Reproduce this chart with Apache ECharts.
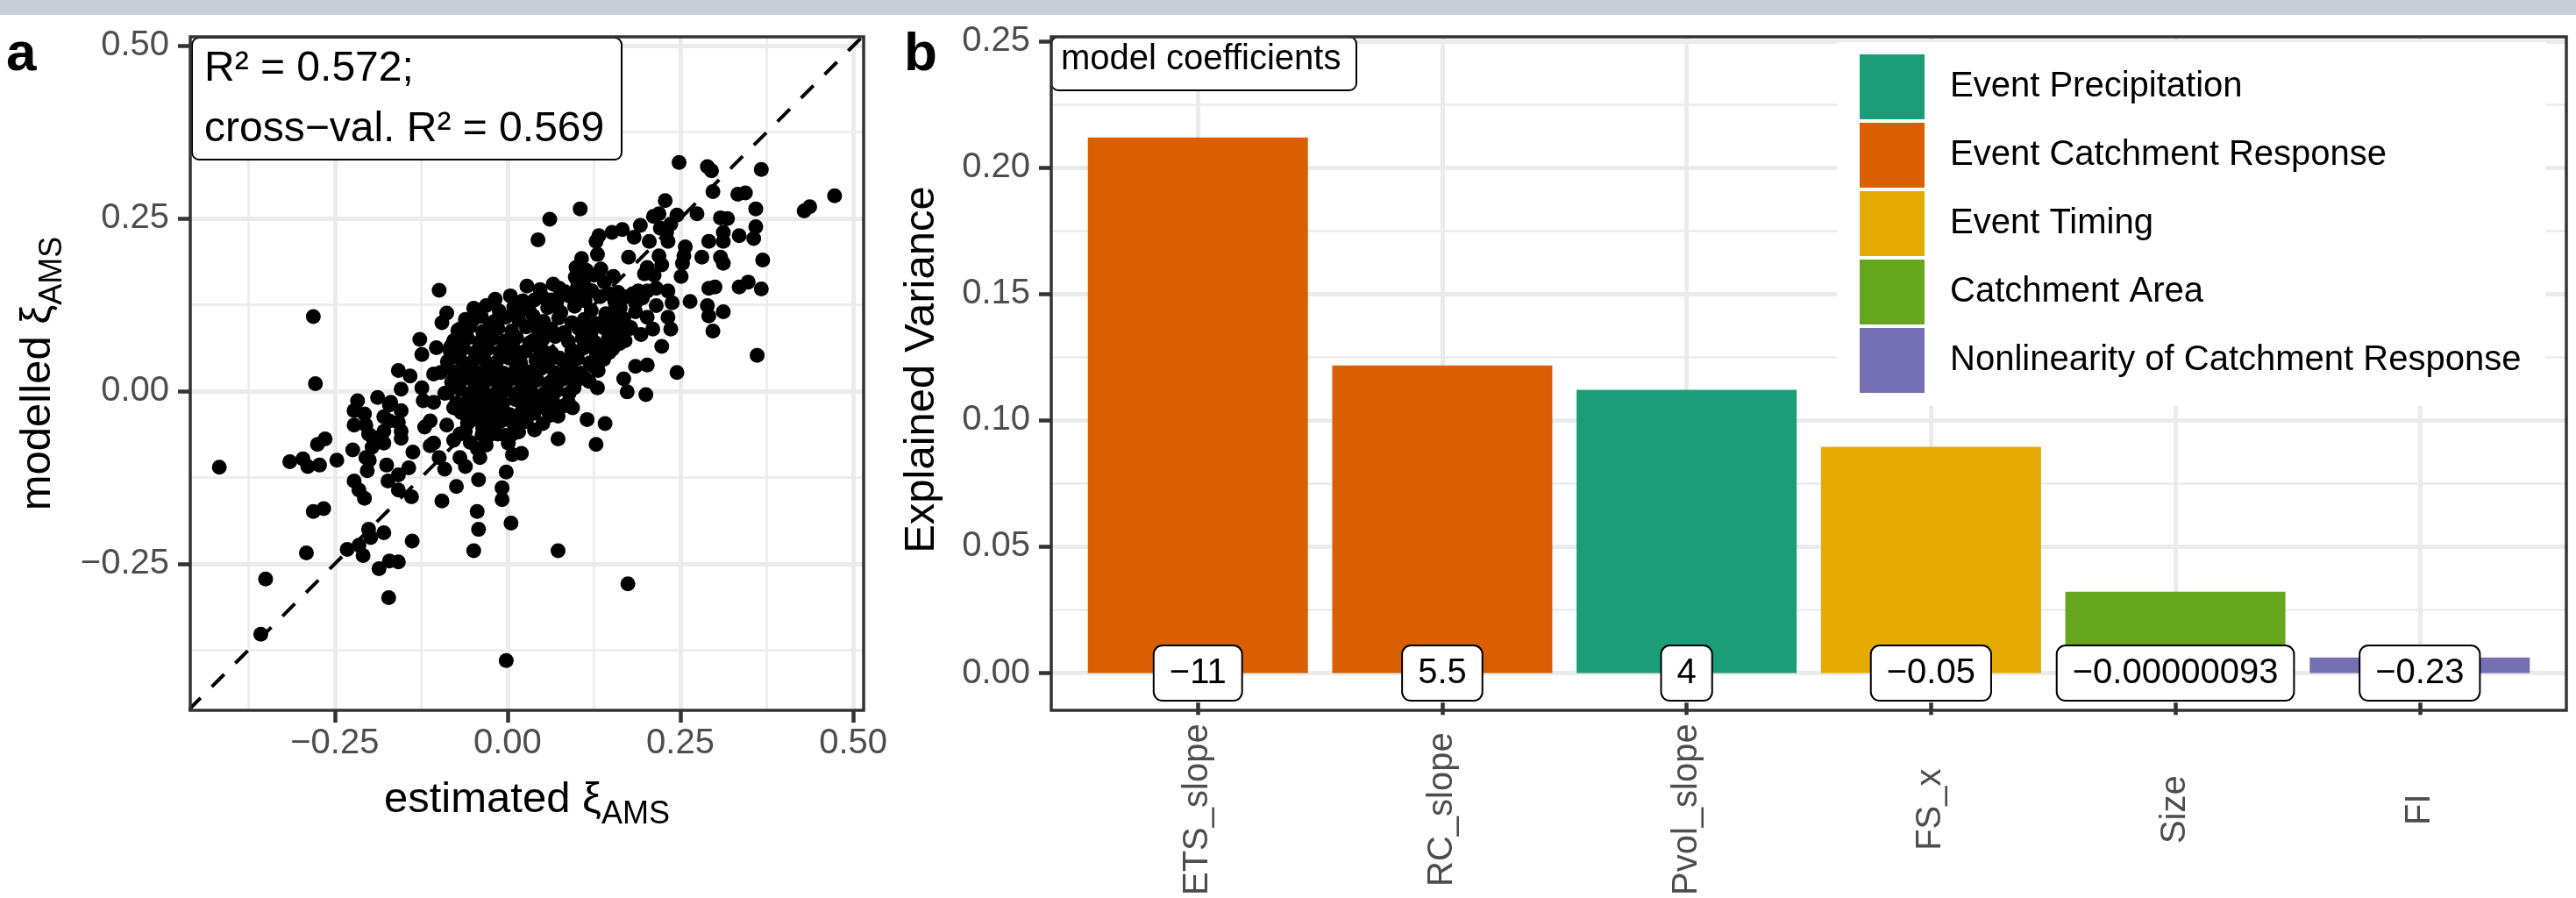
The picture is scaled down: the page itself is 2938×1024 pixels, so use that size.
<!DOCTYPE html>
<html><head><meta charset="utf-8">
<script src="https://cdn.jsdelivr.net/npm/echarts@6/dist/echarts.min.js"></script>
<style>html,body{margin:0;padding:0;background:#fff}#chart{width:2938px;height:1024px}</style>
</head><body><div id="chart"></div>
<script>
const FONT = '"Liberation Sans", Arial, Helvetica, sans-serif';

// ---------------- panel a : estimated vs modelled xi_AMS ----------------
const xiPoints = [
[-0.417,-0.110],[-0.281,0.108],[-0.278,0.011],[-0.099,0.146],
[-0.088,0.113],[-0.095,0.099],[-0.049,0.120],[-0.050,0.103],[-0.069,0.090],[-0.025,0.094],[0.015,0.113],
[-0.127,0.075],[-0.124,0.053],[-0.103,0.063],[-0.082,0.065],[-0.078,0.073],[-0.057,0.039],
[-0.158,0.030],[-0.141,0.022],[-0.107,0.025],[-0.097,0.027],[-0.074,0.022],[-0.046,0.025],[-0.027,0.035],[-0.010,0.018],
[-0.154,0.003],[-0.124,0.005],
[-0.217,-0.014],[-0.222,-0.028],[-0.207,-0.033],[-0.188,-0.009],[-0.171,-0.020],[-0.154,-0.028],[-0.222,-0.049],[-0.205,-0.049],[-0.179,-0.037],[-0.158,-0.045],
[-0.122,-0.014],[-0.107,-0.016],[-0.091,-0.003],[-0.078,-0.024],[-0.061,-0.020],[-0.044,-0.007],[-0.027,-0.016],[-0.010,-0.028],
[-0.120,-0.052],[-0.112,-0.043],[-0.088,-0.049],[-0.069,-0.062],[-0.052,-0.037],[-0.036,-0.054],[-0.014,-0.062],[0.007,-0.062],
[-0.196,-0.066],[-0.179,-0.075],[-0.154,-0.068],[-0.275,-0.077],[-0.264,-0.069],[-0.224,-0.085],[-0.247,-0.100],
[-0.315,-0.102],[-0.296,-0.098],[-0.289,-0.109],[-0.272,-0.107],[-0.200,-0.100],[-0.175,-0.107],[-0.137,-0.088],[-0.143,-0.111],
[-0.112,-0.079],[-0.099,-0.096],[-0.091,-0.113],[-0.044,-0.083],[-0.040,-0.096],[-0.002,-0.117],[0.007,-0.092],
[-0.201,-0.062],[-0.188,-0.071],[-0.196,-0.081],[-0.205,-0.096],[-0.203,-0.115],[-0.179,-0.058],[-0.171,-0.043],[-0.154,-0.058],
[-0.158,-0.121],[-0.169,-0.016],[-0.107,-0.075],[-0.078,-0.071],[-0.069,-0.096],[-0.061,-0.109],[-0.027,-0.064],
[-0.222,-0.130],[-0.215,-0.143],[-0.207,-0.155],[-0.173,-0.130],[-0.158,-0.143],[-0.139,-0.153],
[-0.281,-0.174],[-0.266,-0.170],[-0.291,-0.234],[-0.350,-0.272],[-0.357,-0.352],
[-0.201,-0.200],[-0.198,-0.212],[-0.179,-0.205],[-0.232,-0.229],[-0.215,-0.223],[-0.209,-0.238],
[-0.186,-0.257],[-0.171,-0.246],[-0.158,-0.247],[-0.172,-0.299],[-0.138,-0.217],
[-0.095,-0.159],[-0.074,-0.138],[-0.042,-0.128],[-0.044,-0.174],[-0.042,-0.200],[-0.049,-0.231],
[-0.008,-0.140],[-0.008,-0.157],[0.005,-0.191],[-0.002,-0.390],[0.073,-0.231],[0.174,-0.279],
[0.248,0.331],[0.289,0.325],[0.295,0.319],[0.367,0.321],[0.297,0.289],[0.333,0.285],[0.344,0.287],[0.473,0.283],[0.429,0.261],[0.437,0.267],
[0.359,0.264],[0.228,0.276],[0.105,0.264],[0.061,0.249],[0.044,0.219],[0.274,0.257],[0.308,0.251],[0.318,0.250],[0.359,0.238],[0.312,0.230],
[0.335,0.225],[0.356,0.221],[0.291,0.217],[0.312,0.217],[0.308,0.194],[0.312,0.185],[0.281,0.194],[0.369,0.190],[0.251,0.166],[0.257,0.209],
[0.255,0.196],[0.253,0.185],[0.291,0.149],[0.300,0.151],[0.335,0.151],[0.348,0.158],[0.367,0.148],[0.264,0.130],[0.289,0.124],[0.291,0.109],
[0.312,0.115],[0.297,0.087],[0.361,0.052],[0.245,0.027],[0.200,-0.005],[0.173,-0.001],[0.168,0.018],[0.185,0.036],[0.202,0.038],[0.223,0.065],
[0.236,0.090],[0.232,0.107],[0.238,0.128],[0.215,0.124],[0.202,0.107],[0.189,0.145],[0.202,0.145],[0.215,0.149],[0.232,0.145],[0.160,0.143],
[0.173,0.137],[0.181,0.141],[0.198,0.170],[0.202,0.179],[0.212,0.168],[0.219,0.196],[0.223,0.183],[0.205,0.217],[0.232,0.217],[0.230,0.230],
[0.236,0.242],[0.245,0.255],[0.221,0.236],[0.211,0.253],[0.219,0.257],[0.192,0.240],[0.183,0.223],[0.175,0.194],[0.166,0.234],[0.151,0.230],
[0.132,0.225],[0.128,0.217],[0.130,0.198],[0.107,0.192],[0.099,0.179],[0.114,0.175],[0.135,0.177],[0.153,0.166],[0.110,0.160],[0.125,0.168],
[0.140,0.158],[0.098,0.165],[0.075,0.149],[0.039,0.132],[0.063,0.132],[0.020,0.124],[0.105,0.141],[0.122,0.145],[0.147,0.141],[0.185,0.115],
[0.193,0.082],[0.170,0.073],[0.147,0.056],[0.135,0.065],[0.126,0.035],[0.118,0.014],[0.092,0.039],[0.075,0.048],[0.054,0.056],[0.037,0.073],
[0.041,0.094],[0.020,0.056],[0.024,0.022],[0.037,0.022],[0.063,0.014],[0.067,-0.003],[0.084,0.027],[0.096,0.005],[0.033,-0.003],[0.029,-0.016],
[0.130,0.005],[0.088,-0.016],[0.094,-0.024],[0.063,-0.020],[0.061,-0.035],[0.039,-0.028],[0.039,-0.056],[0.020,-0.033],[0.115,-0.041],[0.141,-0.047],
[0.073,-0.069],[0.128,-0.077],[0.020,-0.090],
[0.155,0.118],[0.168,0.105],[0.178,0.092],[0.160,0.085],[0.185,0.128],[0.195,0.135],[0.210,0.090],[0.150,0.100],
[0.028,0.152],[0.047,0.147],[0.066,0.155],[0.083,0.144],[0.101,0.151],[0.118,0.146],
[-0.018,0.133],[0.004,0.138],[0.022,0.131],[0.051,0.136],[0.071,0.129],[0.089,0.138],[0.112,0.131],[0.134,0.137],[0.155,0.130],
[-0.046,0.118],[-0.031,0.124],[-0.012,0.116],[0.009,0.122],[0.031,0.117],[0.058,0.121],[0.077,0.114],[0.097,0.123],[0.121,0.117],[0.142,0.112],[0.163,0.121],
[-0.061,0.104],[-0.038,0.108],[-0.019,0.101],[-0.003,0.107],[0.016,0.103],[0.037,0.109],[0.052,0.101],[0.074,0.106],[0.093,0.099],[0.111,0.104],[0.129,0.098],[0.151,0.106],[0.168,0.101],
[-0.072,0.088],[-0.055,0.093],[-0.036,0.086],[-0.014,0.091],[0.006,0.087],[0.027,0.093],[0.045,0.086],[0.063,0.090],[0.082,0.085],[0.103,0.091],[0.121,0.086],[0.139,0.092],[0.158,0.087],[0.178,0.091],
[-0.076,0.073],[-0.058,0.077],[-0.041,0.071],[-0.022,0.076],[-0.005,0.072],[0.013,0.078],[0.032,0.070],[0.051,0.075],[0.069,0.079],[0.088,0.072],[0.108,0.077],[0.126,0.071],[0.146,0.078],[0.162,0.069],
[-0.083,0.058],[-0.064,0.062],[-0.047,0.056],[-0.029,0.061],[-0.011,0.057],[0.008,0.063],[0.026,0.058],[0.046,0.061],[0.064,0.055],[0.093,0.059],[0.109,0.062],[0.128,0.057],[0.152,0.061],
[-0.087,0.043],[-0.069,0.047],[-0.052,0.041],[-0.034,0.046],[-0.016,0.042],[0.002,0.048],[0.019,0.041],[0.041,0.045],[0.058,0.039],[0.081,0.044],[0.101,0.047],[0.119,0.041],[0.139,0.046],
[-0.078,0.028],[-0.061,0.033],[-0.043,0.027],[-0.024,0.031],[-0.006,0.026],[0.012,0.032],[0.031,0.028],[0.049,0.033],[0.068,0.027],[0.089,0.031],[0.107,0.026],[0.131,0.030],
[-0.081,0.013],[-0.064,0.018],[-0.048,0.012],[-0.029,0.016],[-0.013,0.011],[0.004,0.017],[0.021,0.012],[0.043,0.016],[0.059,0.011],[0.079,0.017],[0.098,0.013],[0.113,0.018],
[-0.087,-0.002],[-0.069,0.003],[-0.053,-0.003],[-0.036,0.002],[-0.019,-0.004],[-0.002,0.001],[0.015,-0.002],[0.033,0.003],[0.052,-0.004],[0.071,0.001],[0.089,-0.003],
[-0.074,-0.017],[-0.057,-0.012],[-0.041,-0.018],[-0.023,-0.013],[-0.007,-0.018],[0.011,-0.012],[0.028,-0.017],[0.047,-0.011],[0.066,-0.016],[0.082,-0.021],
[-0.067,-0.031],[-0.049,-0.027],[-0.031,-0.033],[-0.016,-0.029],[0.003,-0.034],[0.021,-0.028],[0.038,-0.032],[0.057,-0.027],[0.073,-0.036],
[-0.058,-0.046],[-0.041,-0.042],[-0.026,-0.047],[-0.009,-0.043],[0.009,-0.048],[0.027,-0.044],[0.051,-0.047],
[-0.061,-0.058],[-0.037,-0.063],[-0.019,-0.059],[-0.003,-0.064],[0.016,-0.059],
[-0.054,-0.074],[-0.031,-0.078],[0.001,-0.075]
];
const r2Lines = ['R² = 0.572;', 'cross−val. R² = 0.569'];
const aTicks = [-0.25, 0, 0.25, 0.5];
const aMinorTicks = [-0.375, -0.125, 0.125, 0.375];
const aXRange = [-0.459, 0.515];
const aYRange = [-0.462, 0.513];

// ---------------- panel b : explained variance per predictor ----------------
const categories = ['ETS_slope', 'RC_slope', 'Pvol_slope', 'FS_x', 'Size', 'FI'];
const explainedVariance = [0.2119, 0.1217, 0.1121, 0.0895, 0.0322, 0.0062];
const coefficientLabels = ['−11', '5.5', '4', '−0.05', '−0.00000093', '−0.23'];
const categoryGroup = ['Event Catchment Response', 'Event Catchment Response', 'Event Precipitation',
  'Event Timing', 'Catchment Area', 'Nonlinearity of Catchment Response'];
const groups = ['Event Precipitation', 'Event Catchment Response', 'Event Timing',
  'Catchment Area', 'Nonlinearity of Catchment Response'];
const groupColors = ['#1B9E77', '#D95F02', '#E6AB02', '#66A61E', '#7570B3'];
const bTicks = [0, 0.05, 0.10, 0.15, 0.20, 0.25];
const bMinorTicks = [0.025, 0.075, 0.125, 0.175, 0.225];
const bYRange = [-0.01166, 0.2517];
const bXRange = [0.4, 6.6];

// ---------------- layout / style ----------------
const gridA = {left: 217, top: 42, width: 768, height: 768};
const gridB = {left: 1199, top: 42, width: 1728, height: 768};
const GRID_MAJOR = {color: '#EBEBEB', width: 5};
const GRID_MINOR = {color: '#EBEBEB', width: 2.5};
const TICK = {show: true, length: 14, lineStyle: {color: '#333333', width: 4.5}};
const LABEL = {fontSize: 40, color: '#4D4D4D', fontFamily: FONT};
const NO_LINE = {show: false, onZero: false};
const fmtNum = v => (v < 0 ? '−' : '') + Math.abs(v).toFixed(2);
const catPos = categories.map((c, i) => i + 1);

function vLines(xs, yr) { return xs.map(x => ({coords: [[x, yr[0]], [x, yr[1]]]})); }
function hLines(ys, xr) { return ys.map(y => ({coords: [[xr[0], y], [xr[1], y]]})); }

const subRich = {
  m: {fontSize: 49, lineHeight: 70, fontFamily: FONT, color: '#000'},
  s: {fontSize: 36, lineHeight: 70, verticalAlign: 'bottom', fontFamily: FONT, color: '#000'}
};

const barSeries = groups.map((g, gi) => ({
  type: 'bar', name: g, xAxisIndex: 1, yAxisIndex: 1,
  barWidth: 251, barGap: '-100%', z: 2,
  itemStyle: {color: groupColors[gi]},
  data: categories.map((c, i) => categoryGroup[i] === g ? [catPos[i], explainedVariance[i]] : null).filter(d => d)
}));

const option = {
  animation: false,
  backgroundColor: '#ffffff',
  textStyle: {fontFamily: FONT},
  grid: [
    Object.assign({show: false}, gridA),
    Object.assign({show: false}, gridB)
  ],
  title: [
    {text: 'a', left: 7, top: 32, padding: 0, textStyle: {fontSize: 62, lineHeight: 62, fontWeight: 'bold', color: '#000', fontFamily: FONT}},
    {text: 'b', left: 1031, top: 32, padding: 0, textStyle: {fontSize: 62, lineHeight: 62, fontWeight: 'bold', color: '#000', fontFamily: FONT}},
    {text: r2Lines.join('\n'), left: 219, top: 43, padding: [1, 20, 0, 14],
     backgroundColor: '#fff', borderColor: '#000', borderWidth: 2, borderRadius: 8,
     textStyle: {fontSize: 48, lineHeight: 69, fontWeight: 'normal', color: '#000', fontFamily: FONT}},
    {text: 'model coefficients', left: 1199, top: 42, padding: [5, 18, 15, 11],
     backgroundColor: '#fff', borderColor: '#000', borderWidth: 2, borderRadius: 8,
     textStyle: {fontSize: 40, lineHeight: 41, fontWeight: 'normal', color: '#000', fontFamily: FONT}}
  ],
  legend: {
    orient: 'vertical', left: 2095, top: 48, padding: [14, 28, 15, 26],
    itemWidth: 74, itemHeight: 74, itemGap: 4, icon: 'rect',
    backgroundColor: '#fff', selectedMode: false,
    textStyle: {fontSize: 40, color: '#000', fontFamily: FONT, padding: [0, 0, 0, 24]},
    data: groups
  },
  xAxis: [
    {type: 'value', gridIndex: 0, min: aXRange[0], max: aXRange[1],
     axisLine: NO_LINE,
     axisTick: Object.assign({customValues: aTicks}, TICK),
     axisLabel: Object.assign({customValues: aTicks, formatter: fmtNum, margin: 18}, LABEL),
     splitLine: {show: true, lineStyle: GRID_MAJOR},
     name: '{m|estimated ξ}{s|AMS}', nameLocation: 'middle', nameGap: 67,
     nameTextStyle: {rich: subRich}},
    {type: 'value', gridIndex: 1, min: bXRange[0], max: bXRange[1],
     axisLine: NO_LINE,
     axisTick: Object.assign({customValues: catPos}, TICK),
     axisLabel: Object.assign({customValues: catPos, rotate: 90, margin: 122,
       align: 'center', verticalAlign: 'middle',
       formatter: v => categories[Math.round(v) - 1]}, LABEL),
     splitLine: {show: true, lineStyle: GRID_MAJOR}}
  ],
  yAxis: [
    {type: 'value', gridIndex: 0, min: aYRange[0], max: aYRange[1],
     axisLine: NO_LINE,
     axisTick: Object.assign({customValues: aTicks}, TICK),
     axisLabel: Object.assign({customValues: aTicks, formatter: fmtNum, margin: 24}, LABEL),
     splitLine: {show: true, lineStyle: GRID_MAJOR},
     name: '{m|modelled ξ}{s|AMS}', nameLocation: 'middle', nameRotate: 90, nameGap: 139,
     nameTextStyle: {rich: subRich}},
    {type: 'value', gridIndex: 1, min: bYRange[0], max: bYRange[1],
     axisLine: NO_LINE,
     axisTick: Object.assign({customValues: bTicks}, TICK),
     axisLabel: Object.assign({customValues: bTicks, formatter: fmtNum, margin: 24}, LABEL),
     splitLine: {show: true, lineStyle: GRID_MAJOR},
     name: 'Explained Variance', nameLocation: 'middle', nameRotate: 90, nameGap: 103,
     nameTextStyle: {fontSize: 49, lineHeight: 70, color: '#000', fontFamily: FONT}}
  ],
  series: [
    {type: 'lines', coordinateSystem: 'cartesian2d', xAxisIndex: 0, yAxisIndex: 0, silent: true, z: 1,
     lineStyle: {color: GRID_MINOR.color, width: GRID_MINOR.width, opacity: 1},
     data: vLines(aMinorTicks, aYRange).concat(hLines(aMinorTicks, aXRange))},
    {type: 'lines', coordinateSystem: 'cartesian2d', xAxisIndex: 1, yAxisIndex: 1, silent: true, z: 1,
     lineStyle: {color: GRID_MINOR.color, width: GRID_MINOR.width, opacity: 1},
     data: hLines(bMinorTicks, bXRange)},
    {type: 'scatter', xAxisIndex: 0, yAxisIndex: 0, data: xiPoints, symbolSize: 17, z: 3,
     itemStyle: {color: '#000', opacity: 1}, silent: true},
    {type: 'line', xAxisIndex: 0, yAxisIndex: 0, z: 4, symbol: 'none', silent: true,
     data: [[Math.min(aXRange[0], aYRange[0]), Math.min(aXRange[0], aYRange[0])],
            [Math.max(aXRange[1], aYRange[1]), Math.max(aXRange[1], aYRange[1])]],
     lineStyle: {color: '#000', width: 4, type: [20, 18]}},
    ...barSeries,
    {type: 'scatter', xAxisIndex: 1, yAxisIndex: 1, z: 5, silent: true,
     symbolSize: 1, itemStyle: {color: '#ffffff', opacity: 1},
     data: catPos.map(p => [p, 0]),
     label: {show: true, position: 'inside', formatter: p => coefficientLabels[p.dataIndex],
       fontSize: 40, lineHeight: 41, color: '#000', fontFamily: FONT, opacity: 1,
       backgroundColor: '#ffffff', borderColor: '#000', borderWidth: 2, borderRadius: 9,
       padding: [10, 17, 10, 17]}}
  ],
  graphic: [
    {type: 'rect', shape: {x: 0, y: 0, width: 2938, height: 17}, style: {fill: '#C9CDD6'}, z: 100, silent: true},
    {type: 'rect', shape: {x: gridA.left, y: gridA.top, width: gridA.width, height: gridA.height},
     style: {fill: 'none', stroke: '#333333', lineWidth: 3.5}, z: 100, silent: true},
    {type: 'rect', shape: {x: gridB.left, y: gridB.top, width: gridB.width, height: gridB.height},
     style: {fill: 'none', stroke: '#333333', lineWidth: 3.5}, z: 100, silent: true}
  ]
};

const chart = echarts.init(document.getElementById('chart'), null, {renderer: 'canvas', width: 2938, height: 1024});
chart.setOption(option);
</script>
</body></html>
